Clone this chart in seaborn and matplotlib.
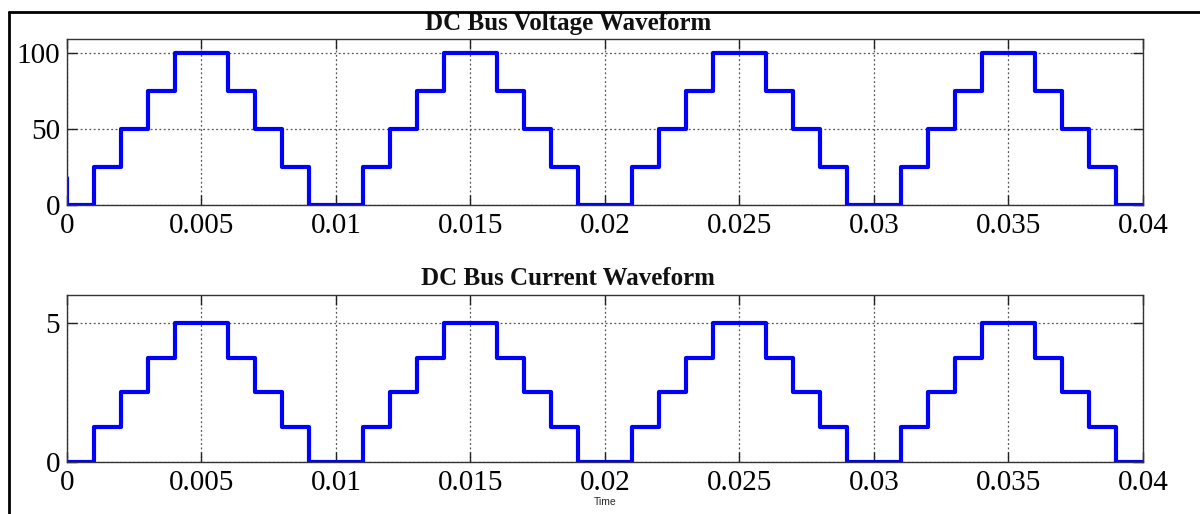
import numpy as np
import pandas as pd
import matplotlib
matplotlib.use("Agg")
import matplotlib.pyplot as plt
from matplotlib.lines import Line2D
import seaborn as sns

# Step instants in milliseconds (each level holds until the next instant)
time_ms = [0, 0, 1, 2, 3, 4, 5, 6, 7, 8, 9,
           10, 11, 12, 13, 14, 15, 16, 17, 18, 19,
           20, 21, 22, 23, 24, 25, 26, 27, 28, 29,
           30, 31, 32, 33, 34, 35, 36, 37, 38, 39, 40]

# DC bus voltage level held after each instant
voltage = [18, 0, 25, 50, 75, 100, 100, 75, 50, 25, 0,
           0, 25, 50, 75, 100, 100, 75, 50, 25, 0,
           0, 25, 50, 75, 100, 100, 75, 50, 25, 0,
           0, 25, 50, 75, 100, 100, 75, 50, 25, 0, 0]

# DC bus current level held after each instant
current = [0, 0, 1.25, 2.5, 3.75, 5, 5, 3.75, 2.5, 1.25, 0,
           0, 1.25, 2.5, 3.75, 5, 5, 3.75, 2.5, 1.25, 0,
           0, 1.25, 2.5, 3.75, 5, 5, 3.75, 2.5, 1.25, 0,
           0, 1.25, 2.5, 3.75, 5, 5, 3.75, 2.5, 1.25, 0, 0]

x_ticks = [0, 0.005, 0.01, 0.015, 0.02, 0.025, 0.03, 0.035, 0.04]
x_tick_labels = ["0", "0.005", "0.01", "0.015", "0.02", "0.025", "0.03", "0.035", "0.04"]
v_ticks = [0, 50, 100]
i_ticks = [0, 5]

df = pd.DataFrame({
    "t": np.array(time_ms) / 1000.0,
    "v": voltage,
    "i": current,
})

sns.set_style("white")
plt.rcParams["font.family"] = ["Liberation Serif", "DejaVu Serif"]

W, H = 1200, 514
fig = plt.figure(figsize=(W / 100, H / 100), dpi=100)

def px_axes(left, top, right, bottom):
    return fig.add_axes([left / W, 1 - bottom / H, (right - left) / W, (bottom - top) / H])

ax1 = px_axes(67, 39, 1143, 205)
ax2 = px_axes(67, 295, 1143, 461.7)

line_kw = dict(color="#0000ff", linewidth=3.0, drawstyle="steps-post",
               estimator=None, sort=False, legend=False)
sns.lineplot(data=df, x="t", y="v", ax=ax1, **line_kw)
sns.lineplot(data=df, x="t", y="i", ax=ax2, **line_kw)

tick_font = dict(fontsize=21, fontweight="normal", family=["Liberation Serif"], color="black")
for ax, yt, ymax in [(ax1, v_ticks, 109), (ax2, i_ticks, 6)]:
    ax.set_xlim(0, 0.04)
    ax.set_ylim(0, ymax)
    ax.set_xticks(x_ticks)
    ax.set_xticklabels(x_tick_labels, **tick_font)
    ax.set_yticks(yt)
    ax.set_yticklabels([str(v) for v in yt], **tick_font)
    ax.set_xlabel("")
    ax.set_ylabel("")
    ax.grid(True, linestyle=(0, (1.5, 2.0)), color="#555555", linewidth=0.9)
    ax.tick_params(direction="in", length=7, width=1, color="#222222",
                   top=True, right=True, bottom=True, left=True,
                   pad=5)
    ax.tick_params(axis="x", pad=6)
    for sp in ax.spines.values():
        sp.set_visible(True)
        sp.set_color("#333333")
        sp.set_linewidth(1.0)

title_kw = dict(fontsize=18, fontweight="bold", family=["Liberation Serif"],
                ha="center", va="baseline", color="#111111")
ax1.text(0.4656, 1 + 9 / 166, "DC Bus Voltage Waveform", transform=ax1.transAxes, **title_kw)
ax2.text(0.4656, 1 + 10 / 166.7, "DC Bus Current Waveform", transform=ax2.transAxes, **title_kw)

ax2.set_xlabel("Time", fontsize=7.5, family=["Liberation Sans"])
ax2.xaxis.set_label_coords(0.5, -(502 - 461.7) / 166.7)
ax2.xaxis.label.set_va("center")

# Frame lines along the top and left edges of the figure
fig.add_artist(Line2D([8.5 / W, 1.0], [1 - 11.5 / H, 1 - 11.5 / H],
                      transform=fig.transFigure, color="black", linewidth=2.0))
fig.add_artist(Line2D([8.5 / W, 8.5 / W], [1 - 11.5 / H, 0.0],
                      transform=fig.transFigure, color="black", linewidth=2.0))

fig.savefig("out.png", dpi=100)
